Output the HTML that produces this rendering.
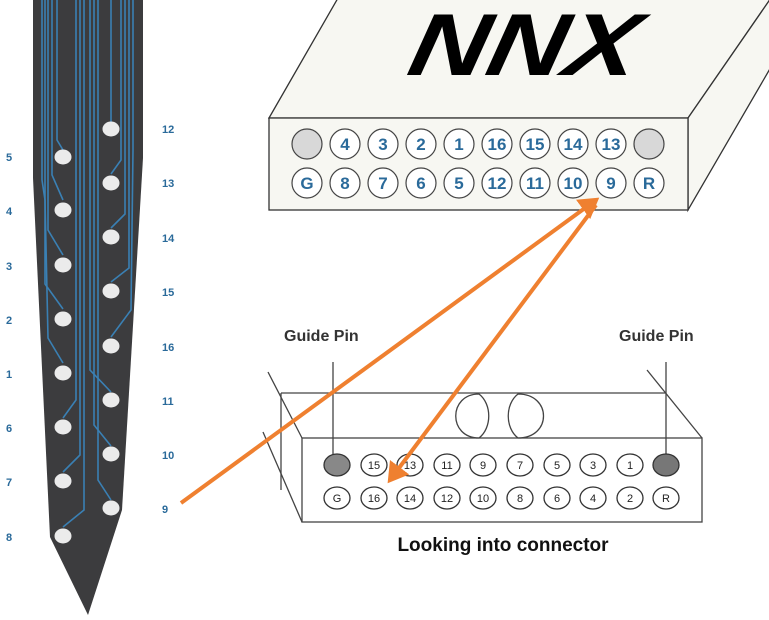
<!DOCTYPE html>
<html><head><meta charset="utf-8"><style>html,body{margin:0;padding:0;background:#fff}svg{display:block}</style></head>
<body>
<svg width="769" height="620" viewBox="0 0 769 620" xmlns="http://www.w3.org/2000/svg" font-family="Liberation Sans, sans-serif">
<defs>
<marker id="ah" markerWidth="6" markerHeight="6" refX="4" refY="3" orient="auto" markerUnits="strokeWidth"><path d="M0,0 L5,3 L0,6 Z" fill="#ef8030"/></marker>
</defs>
<polygon points="33,0 143,0 143,158 122,510 88,615 50,537 33,178" fill="#3c3c3e"/>
<g fill="none" stroke="#3a80b4" stroke-width="1.6">
<polyline points="57,0 57,140 63,150"/>
<polyline points="52,0 52,175 63,200"/>
<polyline points="48,0 48,230 63,255"/>
<polyline points="45,0 45,284 63,309"/>
<polyline points="42,0 42,180 45,200 48,338 63,363"/>
<polyline points="76,0 76,400 63,418"/>
<polyline points="80,0 80,455 63,472"/>
<polyline points="84,0 84,510 63,527"/>
<polyline points="90,0 90,370 111,392"/>
<polyline points="94,0 94,425 111,446"/>
<polyline points="98,0 98,480 111,500"/>
<line x1="111" y1="0" x2="111" y2="125"/>
<polyline points="121,0 121,160 111,174"/>
<polyline points="125,0 125,214 111,228"/>
<polyline points="129,0 129,268 111,282"/>
<polyline points="133,0 133,150 131,310 111,337"/>
</g>
<g fill="#ebebeb">
<ellipse cx="63" cy="157" rx="8.5" ry="7.5"/><ellipse cx="63" cy="210" rx="8.5" ry="7.5"/><ellipse cx="63" cy="265" rx="8.5" ry="7.5"/><ellipse cx="63" cy="319" rx="8.5" ry="7.5"/><ellipse cx="63" cy="373" rx="8.5" ry="7.5"/><ellipse cx="63" cy="427" rx="8.5" ry="7.5"/><ellipse cx="63" cy="481" rx="8.5" ry="7.5"/><ellipse cx="63" cy="536" rx="8.5" ry="7.5"/>
<ellipse cx="111" cy="129" rx="8.5" ry="7.5"/><ellipse cx="111" cy="183" rx="8.5" ry="7.5"/><ellipse cx="111" cy="237" rx="8.5" ry="7.5"/><ellipse cx="111" cy="291" rx="8.5" ry="7.5"/><ellipse cx="111" cy="346" rx="8.5" ry="7.5"/><ellipse cx="111" cy="400" rx="8.5" ry="7.5"/><ellipse cx="111" cy="454" rx="8.5" ry="7.5"/><ellipse cx="111" cy="508" rx="8.5" ry="7.5"/>
</g>
<g fill="#2a6a9a" font-size="11" font-weight="bold">
<text x="6" y="161">5</text><text x="6" y="215">4</text><text x="6" y="270">3</text><text x="6" y="324">2</text><text x="6" y="378">1</text><text x="6" y="432">6</text><text x="6" y="486">7</text><text x="6" y="541">8</text>
<text x="162" y="133">12</text><text x="162" y="187">13</text><text x="162" y="242">14</text><text x="162" y="296">15</text><text x="162" y="351">16</text><text x="162" y="405">11</text><text x="162" y="459">10</text><text x="162" y="513">9</text>
</g>
<polygon points="269,118 338,-2 771,-2 688,118" fill="#f7f7f2" stroke="#333" stroke-width="1.3"/>
<polygon points="688,118 771,-2 771,67 688,210" fill="#f7f7f2" stroke="#333" stroke-width="1.3"/>
<rect x="269" y="118" width="419" height="92" fill="#f7f7f2" stroke="#333" stroke-width="1.3"/>
<text x="406" y="75" font-size="88" font-weight="bold" font-style="italic" textLength="228" lengthAdjust="spacingAndGlyphs" transform="skewX(-12) translate(15,0)" fill="#000">NNX</text>
<g stroke="#444" stroke-width="1.2" fill="#fff">
<circle cx="307" cy="144" r="15" fill="#d8d8d8"/><circle cx="345" cy="144" r="15"/><circle cx="383" cy="144" r="15"/><circle cx="421" cy="144" r="15"/><circle cx="459" cy="144" r="15"/><circle cx="497" cy="144" r="15"/><circle cx="535" cy="144" r="15"/><circle cx="573" cy="144" r="15"/><circle cx="611" cy="144" r="15"/><circle cx="649" cy="144" r="15" fill="#d8d8d8"/>
<circle cx="307" cy="183" r="15"/><circle cx="345" cy="183" r="15"/><circle cx="383" cy="183" r="15"/><circle cx="421" cy="183" r="15"/><circle cx="459" cy="183" r="15"/><circle cx="497" cy="183" r="15"/><circle cx="535" cy="183" r="15"/><circle cx="573" cy="183" r="15"/><circle cx="611" cy="183" r="15"/><circle cx="649" cy="183" r="15"/>
</g>
<g fill="#2a6a9a" font-size="17" font-weight="bold" text-anchor="middle">
<text x="345" y="150">4</text><text x="383" y="150">3</text><text x="421" y="150">2</text><text x="459" y="150">1</text><text x="497" y="150">16</text><text x="535" y="150">15</text><text x="573" y="150">14</text><text x="611" y="150">13</text>
<text x="307" y="189">G</text><text x="345" y="189">8</text><text x="383" y="189">7</text><text x="421" y="189">6</text><text x="459" y="189">5</text><text x="497" y="189">12</text><text x="535" y="189">11</text><text x="573" y="189">10</text><text x="611" y="189">9</text><text x="649" y="189">R</text>
</g>
<g fill="#333" font-size="16" font-weight="bold">
<text x="284" y="341">Guide Pin</text><text x="619" y="341">Guide Pin</text>
</g>
<g stroke="#444" stroke-width="1.3" fill="none">
<line x1="333" y1="362" x2="333" y2="455"/><line x1="666" y1="362" x2="666" y2="455"/>
<line x1="281" y1="393" x2="666" y2="393"/>
<line x1="647" y1="370" x2="702" y2="438"/>
<line x1="268" y1="372" x2="302" y2="438"/>
<line x1="281" y1="393" x2="281" y2="490"/>
<line x1="263" y1="432" x2="302" y2="522"/>
<rect x="302" y="438" width="400" height="84"/>
<path d="M479,394 C448,394 448,438 479,438 C492,428 492,404 479,394 Z"/>
<path d="M518,394 C552,394 552,438 518,438 C505,428 505,404 518,394 Z"/>
</g>
<g stroke="#333" stroke-width="1.3" fill="#fff">
<ellipse cx="337" cy="465" rx="13" ry="11" fill="#888"/><ellipse cx="374" cy="465" rx="13" ry="11"/><ellipse cx="410" cy="465" rx="13" ry="11"/><ellipse cx="447" cy="465" rx="13" ry="11"/><ellipse cx="483" cy="465" rx="13" ry="11"/><ellipse cx="520" cy="465" rx="13" ry="11"/><ellipse cx="557" cy="465" rx="13" ry="11"/><ellipse cx="593" cy="465" rx="13" ry="11"/><ellipse cx="630" cy="465" rx="13" ry="11"/><ellipse cx="666" cy="465" rx="13" ry="11" fill="#777"/>
<ellipse cx="337" cy="498" rx="13" ry="11"/><ellipse cx="374" cy="498" rx="13" ry="11"/><ellipse cx="410" cy="498" rx="13" ry="11"/><ellipse cx="447" cy="498" rx="13" ry="11"/><ellipse cx="483" cy="498" rx="13" ry="11"/><ellipse cx="520" cy="498" rx="13" ry="11"/><ellipse cx="557" cy="498" rx="13" ry="11"/><ellipse cx="593" cy="498" rx="13" ry="11"/><ellipse cx="630" cy="498" rx="13" ry="11"/><ellipse cx="666" cy="498" rx="13" ry="11"/>
</g>
<g fill="#222" font-size="11" text-anchor="middle">
<text x="374" y="469">15</text><text x="410" y="469">13</text><text x="447" y="469">11</text><text x="483" y="469">9</text><text x="520" y="469">7</text><text x="557" y="469">5</text><text x="593" y="469">3</text><text x="630" y="469">1</text>
<text x="337" y="502">G</text><text x="374" y="502">16</text><text x="410" y="502">14</text><text x="447" y="502">12</text><text x="483" y="502">10</text><text x="520" y="502">8</text><text x="557" y="502">6</text><text x="593" y="502">4</text><text x="630" y="502">2</text><text x="666" y="502">R</text>
</g>
<text x="503" y="551" font-size="19" font-weight="bold" text-anchor="middle" fill="#111">Looking into connector</text>
<g stroke="#ef8030" stroke-width="4" fill="none">
<line x1="181" y1="503" x2="596" y2="200" marker-end="url(#ah)"/>
<line x1="596" y1="205" x2="390" y2="480" marker-end="url(#ah)"/>
</g>
</svg>
</body></html>
